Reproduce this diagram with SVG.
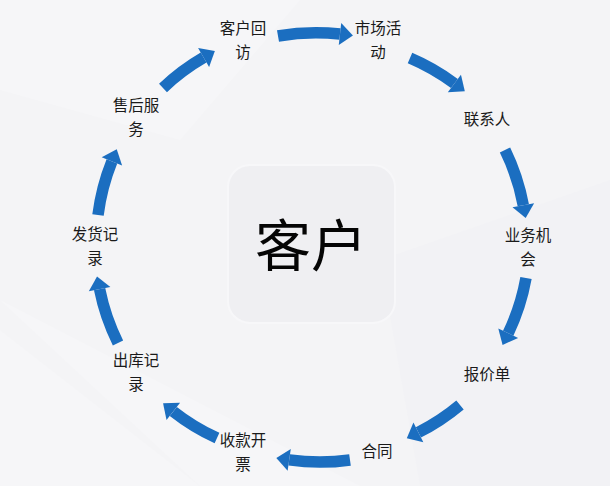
<svg xmlns="http://www.w3.org/2000/svg" width="610" height="486" viewBox="0 0 610 486">
<style>
.lbl{font-family:"Noto Sans CJK SC","Noto Sans",sans-serif;font-size:15.5px;fill:#1a1a1a;text-anchor:middle}
.big{font-family:"Noto Sans CJK SC","Noto Sans",sans-serif;font-size:56px;fill:#050505;text-anchor:middle}
.arr{fill:none;stroke:#1b6ec0;stroke-width:11.5;marker-end:url(#head)}
</style>
<defs>
<marker id="head" markerUnits="userSpaceOnUse" markerWidth="14" markerHeight="22" refX="0" refY="11" orient="auto" overflow="visible">
<path d="M0,0 L13,11 L0,22 Z" fill="#1b6ec0"/>
</marker>
</defs>
<g id="background">
<rect width="610" height="486" fill="#f4f4f6"/>
<polygon points="0,0 300,0 180,140 0,90" fill="#f6f6f8"/>
<polygon points="0,330 200,486 0,486" fill="#f6f6f8"/>
<polygon points="380,260 610,180 610,486 420,486" fill="#f2f2f5"/>
<polygon points="0,300 360,486 200,486" fill="#f6f6f8"/>
</g>
<g id="center">
<rect x="228" y="165" width="167" height="158" rx="22" fill="#efeff2" stroke="#f7f7f9" stroke-width="2"/>
<text class="big" x="311" y="266">客户</text>
</g>
<g id="connectors">
<path class="arr" d="M278,36 A216,216 0 0 1 340,34"/>
<path class="arr" d="M410,58 A216,216 0 0 1 454.4,83.5"/>
<path class="arr" d="M505,150 A216,216 0 0 1 523.3,205.3"/>
<path class="arr" d="M526,278 A216,216 0 0 1 508.2,333.2"/>
<path class="arr" d="M460,405 A216,216 0 0 1 418.4,432.4"/>
<path class="arr" d="M350,460 A216,216 0 0 1 289.2,459.9"/>
<path class="arr" d="M217,438 A216,216 0 0 1 173.3,411.4"/>
<path class="arr" d="M118,343 A216,216 0 0 1 99.6,289.2"/>
<path class="arr" d="M98,215 A216,216 0 0 1 111.9,161.3"/>
<path class="arr" d="M163,88 A216,216 0 0 1 203.6,57.6"/>
</g>
<g id="n1"><text class="lbl" x="243" y="34">客户回</text><text class="lbl" x="243" y="58">访</text></g>
<g id="n2"><text class="lbl" x="378" y="34">市场活</text><text class="lbl" x="378" y="58">动</text></g>
<g id="n3"><text class="lbl" x="487" y="125">联系人</text></g>
<g id="n4"><text class="lbl" x="528" y="241">业务机</text><text class="lbl" x="528" y="265">会</text></g>
<g id="n5"><text class="lbl" x="487" y="380">报价单</text></g>
<g id="n6"><text class="lbl" x="377" y="457">合同</text></g>
<g id="n7"><text class="lbl" x="243" y="446">收款开</text><text class="lbl" x="243" y="470">票</text></g>
<g id="n8"><text class="lbl" x="136" y="366">出库记</text><text class="lbl" x="136" y="390">录</text></g>
<g id="n9"><text class="lbl" x="95" y="240">发货记</text><text class="lbl" x="95" y="264">录</text></g>
<g id="n10"><text class="lbl" x="136" y="111">售后服</text><text class="lbl" x="136" y="135">务</text></g>
</svg>
